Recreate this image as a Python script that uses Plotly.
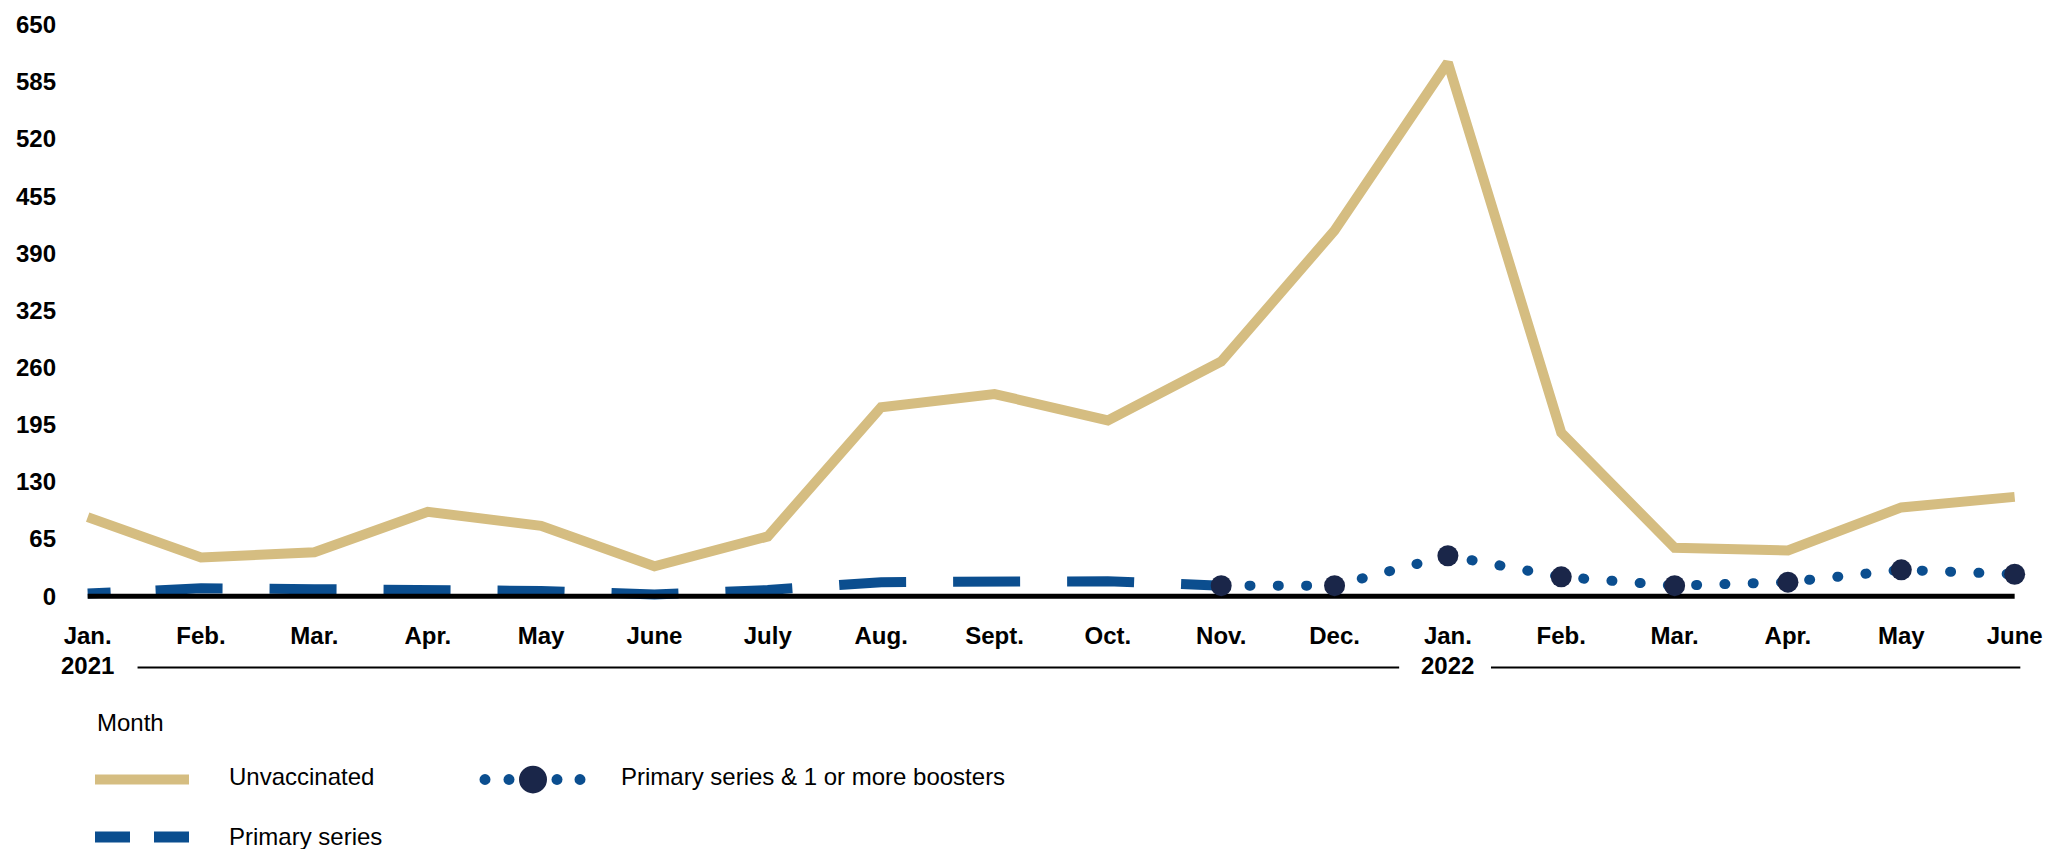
import plotly.graph_objects as go

# Monthly rates, January 2021 through June 2022
months = ["Jan.", "Feb.", "Mar.", "Apr.", "May", "June", "July", "Aug.", "Sept.",
          "Oct.", "Nov.", "Dec.", "Jan.", "Feb.", "Mar.", "Apr.", "May", "June"]
month_idx = list(range(len(months)))
years = ["2021", "2022"]
year_idx = [0, 12]

unvaccinated = [90, 44, 50, 96, 80, 34, 68, 215, 230, 200, 267, 416, 607, 186, 55, 52, 101, 113]
primary_idx = list(range(0, 11))
primary = [3, 9, 8, 7, 6, 2, 7, 16, 17, 17, 12]
booster_idx = list(range(10, 18))
booster = [12, 12, 46, 22, 12, 16, 30, 25]

y_ticks = [0, 65, 130, 195, 260, 325, 390, 455, 520, 585, 650]

TAN = "#D5BD81"
BLUE = "#0B4E8F"
NAVY = "#1A2649"
FONT = "Liberation Sans, Arial, sans-serif"
FS = 24

W, H = 2064, 849
ML, MR, MT, MB = 65, 38, 11, 244
PW, PH = W - ML - MR, H - MT - MB


def px(x):
    return (x - ML) / PW


def py(y):
    return (H - MB - y) / PH


fig = go.Figure()

fig.add_trace(go.Scatter(
    x=month_idx, y=unvaccinated, mode="lines", name="Unvaccinated",
    line=dict(color=TAN, width=10), showlegend=False, hoverinfo="skip"))

primary_dash = "23px,45px" + ",67px,47px" * 12
fig.add_trace(go.Scatter(
    x=primary_idx, y=primary, mode="lines", name="Primary series",
    line=dict(color=BLUE, width=10, dash=primary_dash), showlegend=False, hoverinfo="skip"))

# baseline at zero across the span of months
fig.add_trace(go.Scatter(
    x=[month_idx[0], month_idx[-1]], y=[0, 0], mode="lines",
    line=dict(color="black", width=5), showlegend=False, hoverinfo="skip"))

fig.add_trace(go.Scatter(
    x=booster_idx, y=booster, mode="lines", name="Primary series & 1 or more boosters",
    uid="boost",
    line=dict(color=BLUE, width=10, dash="1px,27.3px"), showlegend=False, hoverinfo="skip"))
fig.add_trace(go.Scatter(
    x=booster_idx, y=booster, mode="markers",
    marker=dict(color=NAVY, size=21), showlegend=False, hoverinfo="skip"))

fig.update_xaxes(
    range=[-0.2, 17.1], tickmode="array", tickvals=month_idx, ticktext=months,
    showgrid=False, zeroline=False, showline=False, ticks="",
    tickfont=dict(family=FONT, size=FS, color="black", weight="bold"),
    ticklabelstandoff=14)
fig.update_yaxes(
    range=[-10, 660], tickmode="array", tickvals=y_ticks,
    showgrid=False, zeroline=False, showline=False, ticks="",
    tickfont=dict(family=FONT, size=FS, color="black", weight="bold"),
    ticklabelstandoff=8)

annotations = []
for yr, xi in zip(years, year_idx):
    annotations.append(dict(
        x=xi, y=py(666), xref="x", yref="paper", text=yr, showarrow=False,
        xanchor="center", yanchor="middle",
        font=dict(family=FONT, size=FS, color="black", weight="bold")))

shapes = [
    dict(type="line", xref="x", yref="paper", x0=0.44, x1=11.57, y0=py(668), y1=py(668),
         line=dict(color="black", width=2)),
    dict(type="line", xref="x", yref="paper", x0=12.38, x1=17.05, y0=py(668), y1=py(668),
         line=dict(color="black", width=2)),
]

# legend block
legend_font = dict(family=FONT, size=FS, color="black")
annotations += [
    dict(x=px(95), y=py(724), xref="paper", yref="paper", text="Month", showarrow=False,
         xanchor="left", yanchor="middle", font=legend_font),
    dict(x=px(227), y=py(778), xref="paper", yref="paper", text="Unvaccinated", showarrow=False,
         xanchor="left", yanchor="middle", font=legend_font),
    dict(x=px(619), y=py(778), xref="paper", yref="paper",
         text="Primary series & 1 or more boosters", showarrow=False,
         xanchor="left", yanchor="middle", font=legend_font),
    dict(x=px(227), y=py(838), xref="paper", yref="paper", text="Primary series", showarrow=False,
         xanchor="left", yanchor="middle", font=legend_font),
]
shapes += [
    dict(type="line", xref="paper", yref="paper", x0=px(95), x1=px(189), y0=py(781), y1=py(781),
         line=dict(color=TAN, width=10)),
    dict(type="line", xref="paper", yref="paper", x0=px(95), x1=px(130), y0=py(839), y1=py(839),
         line=dict(color=BLUE, width=11)),
    dict(type="line", xref="paper", yref="paper", x0=px(154), x1=px(189), y0=py(839), y1=py(839),
         line=dict(color=BLUE, width=11)),
]
for cx in [485, 509, 557, 580]:
    shapes.append(dict(type="circle", xref="paper", yref="paper",
                       x0=px(cx - 5.5), x1=px(cx + 5.5), y0=py(781 + 5.5), y1=py(781 - 5.5),
                       fillcolor=BLUE, line=dict(width=0)))
shapes.append(dict(type="circle", xref="paper", yref="paper",
                   x0=px(533 - 14), x1=px(533 + 14), y0=py(781 + 14), y1=py(781 - 14),
                   fillcolor=NAVY, line=dict(width=0)))

fig.update_layout(
    width=W, height=H, margin=dict(l=ML, r=MR, t=MT, b=MB, pad=0),
    paper_bgcolor="white", plot_bgcolor="white",
    annotations=annotations, shapes=shapes, showlegend=False)

# round line caps for the dotted booster line
post_script = """
var gd = document.getElementById('{plot_id}');
function roundCaps() {
  gd.querySelectorAll('.traceboost path.js-line').forEach(function (p) {
    p.style.strokeLinecap = 'round';
  });
}
roundCaps();
gd.on('plotly_afterplot', roundCaps);
"""

fig.write_html("out.html", post_script=post_script, config={"displayModeBar": False})
